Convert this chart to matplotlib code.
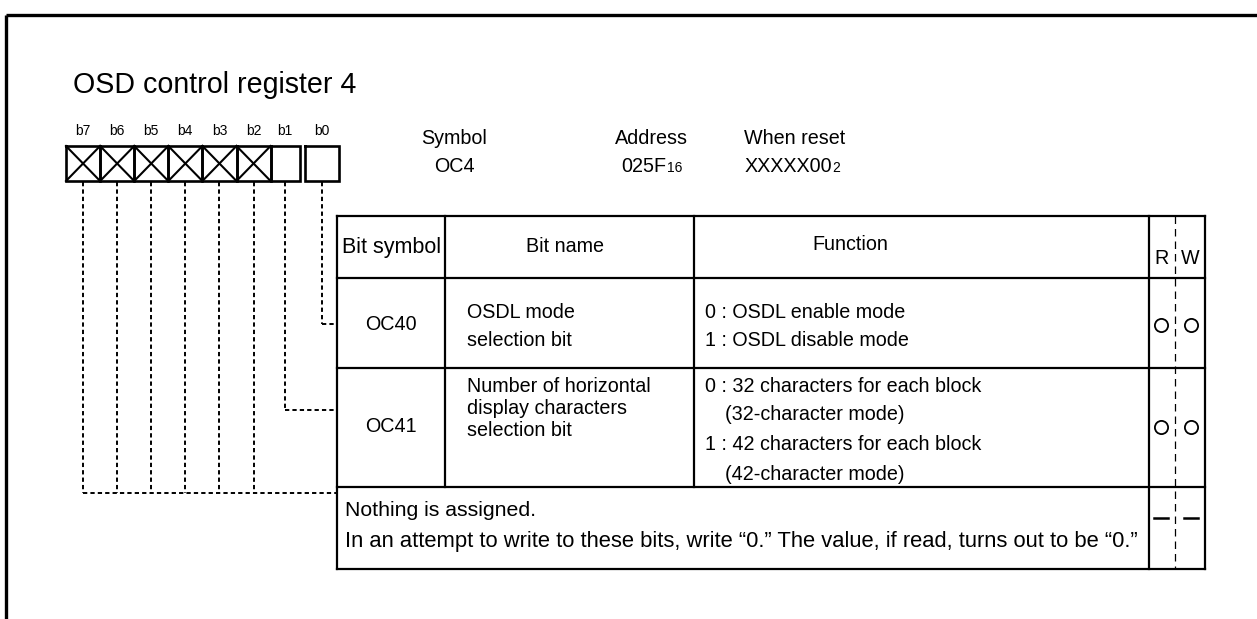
import matplotlib
matplotlib.use('Agg')
import matplotlib.pyplot as plt

plt.rcParams['font.family'] = ['Liberation Sans', 'DejaVu Sans']

# ---------------- data ----------------
title = "OSD control register 4"
bit_labels = ["b7", "b6", "b5", "b4", "b3", "b2", "b1", "b0"]
bit_unused = [True, True, True, True, True, True, False, False]
info_heads = ["Symbol", "Address", "When reset"]
info_main = ["OC4", "025F", "XXXXX00"]
info_sub = ["", "16", "2"]
headers = ["Bit symbol", "Bit name", "Function", "R", "W"]
row_symbols = ["OC40", "OC41"]
row_names = [["OSDL mode", "selection bit"],
             ["Number of horizontal", "display characters", "selection bit"]]
row_functions = [[("0 : OSDL enable mode", 0), ("1 : OSDL disable mode", 0)],
                 [("0 : 32 characters for each block", 0), ("(32-character mode)", 1),
                  ("1 : 42 characters for each block", 0), ("(42-character mode)", 1)]]
row_rw = [("o", "o"), ("o", "o")]
nothing_lines = ["Nothing is assigned.",
                 "In an attempt to write to these bits, write \u201c0.\u201d The value, if read, turns out to be \u201c0.\u201d"]
nothing_rw = ("-", "-")

# ---------------- figure ----------------
fig = plt.figure(figsize=(12.57, 6.19), dpi=100)
ax = fig.add_axes([0, 0, 1, 1])
ax.set_xlim(0, 1257)
ax.set_ylim(619, 0)
ax.axis('off')

FS = 14.2
K = 'black'

# outer frame
ax.plot([6, 1257], [15, 15], color=K, lw=2.4, solid_capstyle='butt')
ax.plot([6, 6], [15, 619], color=K, lw=2.4, solid_capstyle='butt')

# title
ax.text(73, 85, title, fontsize=20.6, va='center', ha='left')

# register boxes
box_left, box_w, box_top, box_bot = 66, 34.1, 146, 181
centers = []
for i, (lab, unused) in enumerate(zip(bit_labels, bit_unused)):
    x0 = box_left + i * box_w
    x1 = x0 + box_w
    if i == 6:
        x1 = x0 + 29
    cx = (x0 + x1) / 2
    centers.append(cx)
    ax.plot([x0, x1, x1, x0, x0], [box_top, box_top, box_bot, box_bot, box_top],
            color=K, lw=1.9, solid_joinstyle='miter')
    if unused:
        ax.plot([x0, x1], [box_top, box_bot], color=K, lw=1.5)
        ax.plot([x0, x1], [box_bot, box_top], color=K, lw=1.5)
    ax.text(cx, 131, lab, fontsize=10, ha='center', va='center')

# header info
info_x = [454, 651, 795]
for hx, head, main, sub in zip(info_x, info_heads, info_main, info_sub):
    ax.text(hx, 138, head, fontsize=FS, ha='center', va='center')
    if sub:
        t = ax.text(hx - 7, 166, main, fontsize=FS, ha='center', va='center')
        ax.annotate(sub, xy=(1, 0.02), xycoords=t, fontsize=10,
                    ha='left', va='bottom')
    else:
        ax.text(hx, 166, main, fontsize=FS, ha='center', va='center')

# table geometry
tl, tr = 337, 1205
col_x = [337, 445, 694, 1149, 1205]
rw_mid = 1175
row_y = [216, 278, 368, 487, 569]
lw_t = 1.6
for y in row_y:
    ax.plot([tl, tr], [y, y], color=K, lw=lw_t, solid_capstyle='projecting')
ax.plot([tl, tl], [row_y[0], row_y[-1]], color=K, lw=lw_t)
ax.plot([tr, tr], [row_y[0], row_y[-1]], color=K, lw=lw_t)
for cx in col_x[1:3]:
    ax.plot([cx, cx], [row_y[0], row_y[3]], color=K, lw=lw_t)
ax.plot([col_x[3], col_x[3]], [row_y[0], row_y[-1]], color=K, lw=lw_t)
ax.plot([rw_mid, rw_mid], [row_y[0], row_y[-1]], color=K, lw=0.9,
        linestyle=(0, (6, 4)))

# header row
ax.text(342, 247, headers[0], fontsize=15.5, ha='left', va='center')
ax.text(565, 247, headers[1], fontsize=FS, ha='center', va='center')
ax.text(850, 245, headers[2], fontsize=FS, ha='center', va='center')
ax.text(1161, 259, headers[3], fontsize=FS, ha='center', va='center')
ax.text(1190, 259, headers[4], fontsize=FS, ha='center', va='center')

# bit rows
name_y = [[313, 341], [386, 408, 430]]
func_y = [[313, 340], [386, 414, 444, 474]]
sym_y = [325, 427]
for r in range(2):
    ax.text(391, sym_y[r], row_symbols[r], fontsize=FS, ha='center', va='center')
    for s, yy in zip(row_names[r], name_y[r]):
        ax.text(467, yy, s, fontsize=FS, ha='left', va='center')
    for (s, ind), yy in zip(row_functions[r], func_y[r]):
        ax.text(705 + 20 * ind, yy, s, fontsize=FS, ha='left', va='center')
    for xx, v in zip([1161, 1191], row_rw[r]):
        if v == "o":
            ax.plot([xx], [sym_y[r]], marker='o', markersize=9.5,
                    markerfacecolor='none', markeredgecolor=K, markeredgewidth=1.3)

# nothing row
ax.text(345, 511, nothing_lines[0], fontsize=15.3, ha='left', va='center')
ax.text(345, 541, nothing_lines[1], fontsize=15.8, ha='left', va='center')
for xx, v in zip([1161, 1191], nothing_rw):
    if v == "-":
        ax.plot([xx - 7, xx + 7], [518, 518], color=K, lw=1.8)

# leader lines
dash = (0, (2.2, 1.6))
targets = [493, 493, 493, 493, 493, 493, 410, 324]
for cx, ty in zip(centers, targets):
    ax.plot([cx, cx], [box_bot + 1, ty], color=K, lw=1.4, linestyle=dash)
for i in (6, 7):
    ax.plot([centers[i], tl], [targets[i], targets[i]], color=K, lw=1.4, linestyle=dash)
ax.plot([centers[0], tl], [493, 493], color=K, lw=1.4, linestyle=dash)

fig.savefig('out.png', dpi=100)
